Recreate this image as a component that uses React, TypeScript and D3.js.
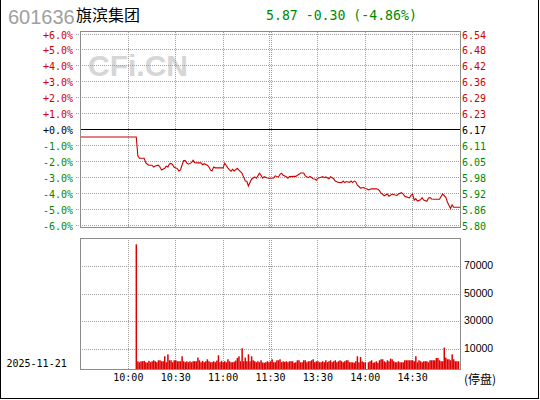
import React from 'react';
import * as d3 from 'd3';

const stockCode = '601636';
const stockName = '旗滨集团';
const quoteText = '5.87 -0.30 (-4.86%)';
const tradeDate = '2025-11-21';
const statusText = '(停盘)';
const watermark = 'CFi.CN';
const prevClose = 6.17;

const pctTicks = [6, 5, 4, 3, 2, 1, 0, -1, -2, -3, -4, -5, -6];
const pctLabels = ['+6.0%', '+5.0%', '+4.0%', '+3.0%', '+2.0%', '+1.0%', '+0.0%', '-1.0%', '-2.0%', '-3.0%', '-4.0%', '-5.0%', '-6.0%'];
const priceLabels = ['6.54', '6.48', '6.42', '6.36', '6.29', '6.23', '6.17', '6.11', '6.05', '5.98', '5.92', '5.86', '5.80'];
const timeTickMinutes = [30, 60, 90, 120, 150, 180, 210];
const timeTickLabels = ['10:00', '10:30', '11:00', '11:30', '13:30', '14:00', '14:30'];
const volTicks = [70000, 50000, 30000, 10000];
const volTickLabels = ['70000', '50000', '30000', '10000'];

// minutes since 9:30 (afternoon continues at 120 = 13:00)
const priceMinutes = [0, 35, 36, 37, 40, 41, 42, 43, 45, 46, 47, 49, 50, 51, 53, 54, 55, 56, 57, 58, 59, 61, 62, 63, 64, 65, 66, 67, 68, 70, 71, 72, 74, 76, 77, 78, 80, 81, 82, 83, 84, 85, 90, 91, 92, 93, 94, 95, 96, 97, 99, 100, 101, 102, 103, 104, 105, 106, 107, 108, 110, 111, 112, 113, 114, 115, 116, 118, 119, 120, 122, 123, 125, 126, 127, 128, 130, 131, 132, 135, 136, 138, 139, 141, 142, 144, 145, 147, 148, 149, 150, 152, 153, 154, 155, 157, 158, 159, 160, 161, 162, 163, 165, 166, 167, 168, 170, 171, 172, 173, 174, 175, 176, 177, 179, 180, 181, 182, 184, 185, 187, 188, 189, 190, 191, 192, 194, 195, 196, 197, 199, 200, 201, 203, 204, 205, 206, 208, 209, 210, 211, 212, 213, 215, 216, 217, 219, 220, 221, 222, 224, 227, 228, 229, 231, 232, 233, 234, 235, 236, 238, 240];
const prices = [6.143, 6.143, 6.070, 6.061, 6.061, 6.044, 6.038, 6.034, 6.034, 6.027, 6.031, 6.034, 6.027, 6.016, 6.022, 6.030, 6.027, 6.039, 6.041, 6.036, 6.026, 6.021, 6.012, 6.016, 6.035, 6.052, 6.052, 6.042, 6.038, 6.044, 6.053, 6.044, 6.043, 6.043, 6.036, 6.040, 6.034, 6.027, 6.016, 6.012, 6.027, 6.024, 6.024, 6.042, 6.033, 6.024, 6.016, 6.011, 6.018, 6.012, 6.022, 6.015, 6.009, 6.003, 5.988, 5.973, 5.972, 5.954, 5.967, 5.980, 5.989, 5.984, 5.993, 6.003, 5.995, 5.984, 5.990, 5.985, 5.984, 5.984, 5.985, 5.993, 5.988, 5.999, 6.003, 5.995, 5.990, 5.984, 5.990, 5.991, 5.991, 5.999, 6.004, 6.004, 5.993, 5.986, 5.991, 5.982, 5.981, 5.976, 5.984, 5.988, 5.990, 5.986, 5.989, 5.982, 5.990, 5.986, 5.982, 5.973, 5.970, 5.968, 5.967, 5.973, 5.967, 5.971, 5.968, 5.973, 5.967, 5.973, 5.970, 5.957, 5.952, 5.946, 5.948, 5.944, 5.943, 5.939, 5.943, 5.943, 5.943, 5.941, 5.936, 5.926, 5.922, 5.916, 5.923, 5.914, 5.918, 5.923, 5.919, 5.918, 5.923, 5.928, 5.923, 5.914, 5.912, 5.908, 5.918, 5.923, 5.899, 5.905, 5.896, 5.901, 5.909, 5.900, 5.895, 5.907, 5.910, 5.904, 5.903, 5.903, 5.913, 5.923, 5.910, 5.892, 5.880, 5.867, 5.881, 5.872, 5.872, 5.872];

const volStartMinute = 35;
const volumes = [
  86000, 1500, 800, 1500, 1500, 1800, 800, 600, 1800, 800,
  1500, 2200, 1500, 800, 2200, 2200, 1500, 1500, 5100, 800,
  6500, 2200, 2200, 800, 2200, 2200, 1500, 1500, 1500, 5100,
  1500, 800, 1500, 800, 1500, 800, 1500, 1500, 1500, 4150,
  2200, 800, 1800, 800, 1500, 2930, 1500, 800, 800, 1500,
  800, 2000, 5800, 800, 1800, 800, 1500, 800, 2930, 1500,
  800, 800, 1200, 2000, 3900, 5100, 1500, 10900, 1500, 4150,
  1500, 6500, 1500, 5100, 2200, 1500, 800, 1500, 800, 2200,
  600, 400, 800, 1500, 800, 1500, 2930, 800, 800, 2200,
  2200, 2930, 800, 1500, 1000, 1500, 800, 1500, 1500, 1500,
  400, 800, 2200, 2200, 700, 800, 2200, 2200, 800, 1500,
  1500, 2200, 2930, 800, 1500, 1500, 800, 800, 1500, 800,
  2200, 800, 1500, 2200, 800, 1500, 2200, 800, 1500, 2200,
  1500, 800, 1500, 2200, 2200, 800, 760, 760, 400, 1500,
  5100, 760, 4600, 1500, 760, 760, 0, 760, 1500, 2200,
  400, 760, 1500, 400, 2200, 2930, 2930, 1500, 760, 2200,
  1500, 3400, 2930, 1500, 760, 760, 1500, 760, 760, 760,
  2200, 2200, 2200, 2200, 2200, 2200, 1500, 5100, 760, 2200,
  1500, 760, 1500, 1500, 1500, 760, 2200, 2200, 2200, 2200,
  3900, 3900, 2200, 1500, 1500, 11380, 4150, 2930, 2930, 2200,
  6500, 2930, 1500, 1500, 1500, 0,
];

const RED = '#cc0000';
const GREEN = '#008800';
const GRID = '#a0a0a0';
const FRAME = '#8c8c8c';
const MONO = "'DejaVu Sans Mono', monospace";
const SANS = "'Liberation Sans', Arial, sans-serif";
const CJK = "'Noto Sans CJK SC', sans-serif";

export default function App() {
  const left = 80, right = 460;
  const pTop = 32, pBottom = 228;
  const vTop = 238, vBottom = 369;

  const x = d3.scaleLinear().domain([0, 240]).range([81, 460]);
  const pctY = d3.scaleLinear().domain([-6, 6]).range([225.95, 34]);
  const priceY = d3.scaleLinear().domain([prevClose * 0.94, prevClose * 1.06]).range([225.95, 34]);
  const volY = d3.scaleLinear().domain([-4100, 90600]).range([vBottom, vTop]);

  const pts: [number, number][] = priceMinutes.map((m, i) => [m, prices[i]]);
  const line = d3.line<[number, number]>().x(d => x(d[0])).y(d => priceY(d[1]));

  const colorFor = (p: number) => (p > 0 ? RED : p < 0 ? GREEN : '#000');
  const px = (v: number) => Math.floor(v) + 0.5;

  const vLines: number[] = [];
  timeTickMinutes.forEach(m => {
    const xv = Math.floor(x(m));
    if (m === 120) { vLines.push(xv - 0.5, xv + 1.5); } else vLines.push(xv + 0.5);
  });

  return (
    <svg width={540} height={400} style={{ position: 'absolute', left: 0, top: 0, display: 'block', background: '#fff' }}>
      <rect x={0} y={0} width={540} height={400} fill="#fff" />
      {/* title */}
      <text x={8} y={24} fontFamily={SANS} fontSize={20} fill="#a0a0a0">{stockCode}</text>
      <text x={76} y={21} fontFamily={CJK} fontSize={16} fill="#000">{stockName}</text>
      <text x={266} y={20} fontFamily={MONO} fontSize={13.2} fill={GREEN}>{quoteText}</text>

      {/* watermark */}
      <text x={88} y={75.5} fontFamily={SANS} fontWeight="bold" fontSize={30} fill="#d6d6d6">{watermark}</text>

      {/* price grid */}
      <g shapeRendering="crispEdges">
        {pctTicks.map(t => t === 0 ? null : (
          <line key={'h' + t} x1={76} x2={right} y1={px(pctY(t))} y2={px(pctY(t))} stroke={GRID} strokeDasharray="1,1" />
        ))}
        {vLines.map((xv, i) => (
          <line key={'v' + i} x1={xv} x2={xv} y1={pTop} y2={pBottom} stroke={GRID} strokeDasharray="1,1" />
        ))}
        {/* volume grid */}
        {volTicks.map(t => (
          <line key={'vh' + t} x1={left} x2={right} y1={px(volY(t))} y2={px(volY(t))} stroke={GRID} strokeDasharray="1,1" />
        ))}
        {vLines.map((xv, i) => (
          <line key={'vv' + i} x1={xv} x2={xv} y1={vTop} y2={vBottom} stroke={GRID} strokeDasharray="1,1" />
        ))}
        <line x1={left} x2={right} y1={px(pctY(0))} y2={px(pctY(0))} stroke="#000" />
      </g>

      {/* volume bars */}
      <g>
        {volumes.map((v, i) => v > 0 ? (
          <rect key={'b' + i} x={x(volStartMinute + i) - 0.7} width={1.5}
            y={volY(v)} height={vBottom - volY(v)} fill="#dd0000" />
        ) : null)}
      </g>

      {/* price line */}
      <path d={line(pts) || ''} fill="none" stroke={RED} strokeWidth={1.1} />

      {/* frames */}
      <g shapeRendering="crispEdges" fill="none" stroke={FRAME}>
        <rect x={left + 0.5} y={pTop - 0.5} width={right - left} height={pBottom - pTop} />
        <rect x={left + 0.5} y={vTop + 0.5} width={right - left} height={vBottom - vTop} />
      </g>

      {/* left pct labels */}
      {pctTicks.map((t, i) => (
        <text key={'pl' + t} x={73} y={px(pctY(t)) + 4.7} textAnchor="end" fontFamily={MONO} fontSize={10} fill={colorFor(t)}>{pctLabels[i]}</text>
      ))}
      {/* right price labels */}
      {pctTicks.map((t, i) => (
        <text key={'pr' + t} x={462} y={px(pctY(t)) + 4.7} fontFamily={MONO} fontSize={10} fill={colorFor(t)}>{priceLabels[i]}</text>
      ))}
      {/* volume labels */}
      {volTicks.map((t, i) => (
        <text key={'vl' + t} x={464} y={px(volY(t)) + 2.8} fontFamily={SANS} fontSize={10.5} fill="#000">{volTickLabels[i]}</text>
      ))}
      {/* time labels */}
      {timeTickMinutes.map((m, i) => (
        <text key={'tl' + m} x={x(m)} y={381} textAnchor="middle" fontFamily={MONO} fontSize={10} fill="#000">{timeTickLabels[i]}</text>
      ))}
      <text x={6.5} y={366.7} fontFamily={MONO} fontSize={10} fill="#000">{tradeDate}</text>
      <text x={464} y={383.5} fontFamily={CJK} fontSize={12} fill="#000">{statusText}</text>

      {/* outer border */}
      <g shapeRendering="crispEdges" fill="none" stroke="#000">
        <line x1={0.5} x2={0.5} y1={0} y2={399} />
        <line x1={538.5} x2={538.5} y1={0} y2={399} />
        <line x1={0} x2={539} y1={398.5} y2={398.5} />
      </g>
    </svg>
  );
}
